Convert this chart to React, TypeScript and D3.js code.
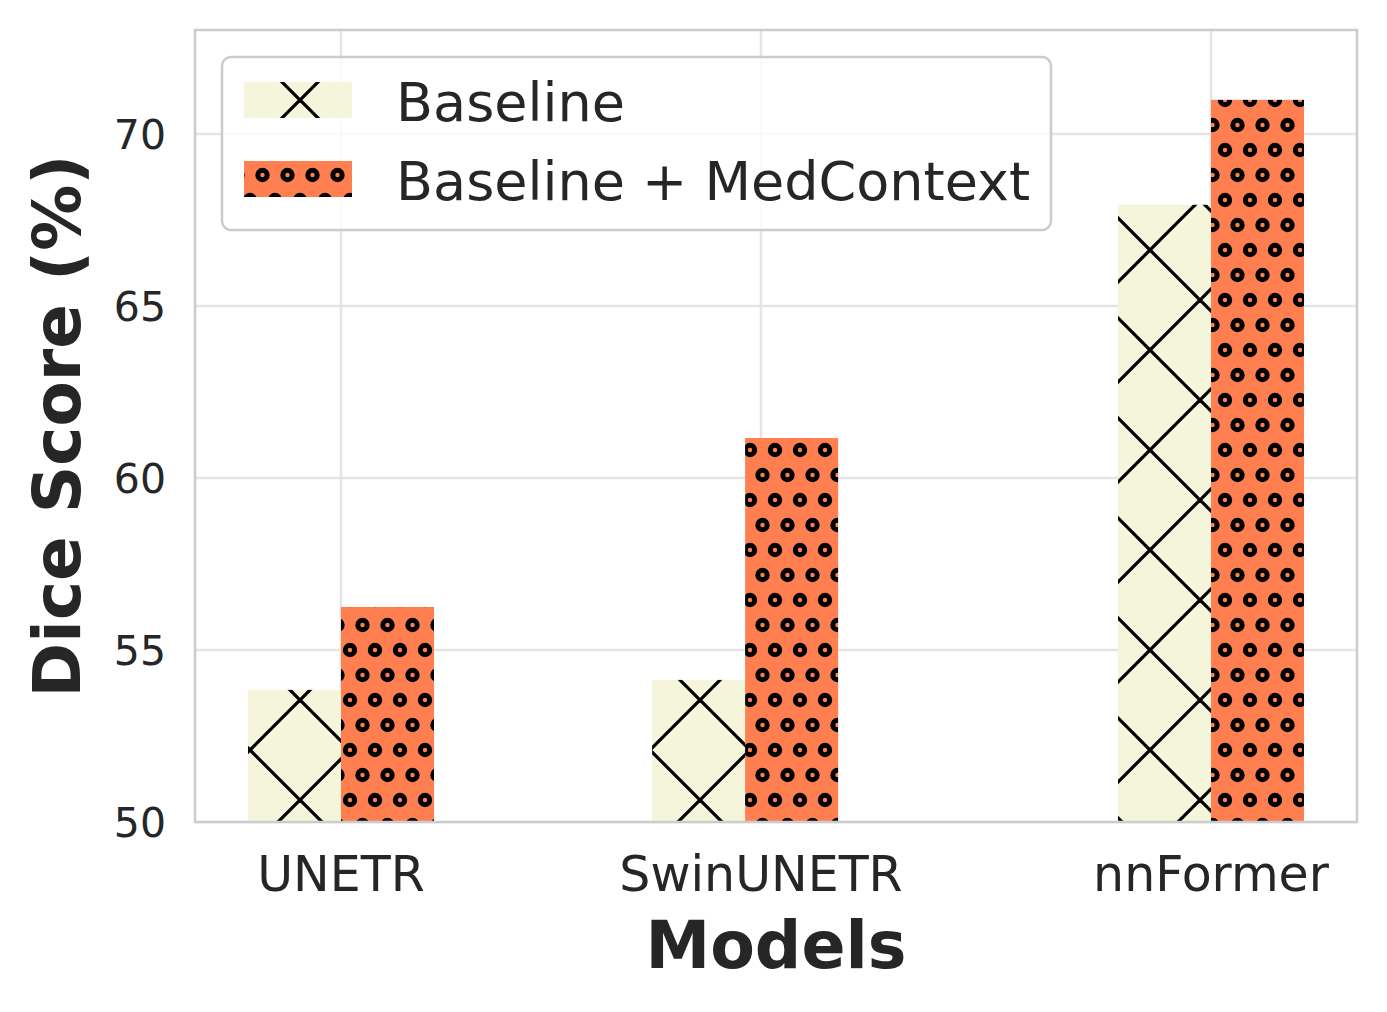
import { scaleLinear } from 'd3'
import { useEffect } from 'react'

// values
const models = ['UNETR', 'SwinUNETR', 'nnFormer']
const modelTickPos = [0, 0.9655, 2]
const modelBarPos = [0, 0.929, 2]
const baseline = [53.84, 54.13, 67.94]
const medContext = [56.25, 61.16, 70.99]
const seriesNames = ['Baseline', 'Baseline + MedContext']
const yTicks = [50, 55, 60, 65, 70]

const W = 1387
const H = 1012
const margin = { left: 195, right: 30, top: 30, bottom: 190 }
const barWidth = 0.2138
const textColor = '#262626'
const font = '"DejaVu Sans", sans-serif'

export default function App() {
    useEffect(() => {
        document.body.style.margin = '0'
    }, [])

    const x = scaleLinear()
        .domain([-0.3356, 2.3356])
        .range([margin.left, W - margin.right])

    const y = scaleLinear()
        .domain([50, 73.02])
        .range([H - margin.bottom, margin.top])

    const bw = x(barWidth) - x(0)
    const [x0, x1] = x.range()
    const [yb, yt] = y.range()

    return (
        <svg width={W} height={H} style={{ display: 'block', background: '#fff' }}>
            <defs>
                <pattern id='hatchX' patternUnits='userSpaceOnUse' width={100} height={100}>
                    <rect width={100} height={100} fill='#f5f5dc' />
                    <g stroke='#000' strokeWidth={3.3}>
                        <line x1={0} y1={0} x2={100} y2={100} />
                        <line x1={0} y1={100} x2={100} y2={0} />
                        <line x1={90} y1={-10} x2={110} y2={10} />
                        <line x1={-10} y1={90} x2={10} y2={110} />
                        <line x1={-10} y1={10} x2={10} y2={-10} />
                        <line x1={90} y1={110} x2={110} y2={90} />
                    </g>
                </pattern>
                <pattern id='hatchO' patternUnits='userSpaceOnUse' width={25} height={50}>
                    <rect width={25} height={50} fill='#ff7f50' />
                    <g stroke='#000' strokeWidth={5} fill='none'>
                        {[[0, 0], [25, 0], [0, 50], [25, 50], [12.5, 25]].map(([cx, cy], i) => (
                            <circle key={i} cx={cx} cy={cy} r={4.7} />
                        ))}
                    </g>
                </pattern>
            </defs>

            {/* grid */}
            <g stroke='#e5e5e5' strokeWidth={2.5}>
                {yTicks.map(t => (
                    <line key={t} x1={x0} x2={x1} y1={y(t)} y2={y(t)} />
                ))}
                {modelTickPos.map((p, i) => (
                    <line key={i} x1={x(p)} x2={x(p)} y1={yt} y2={yb} />
                ))}
            </g>

            {/* bars */}
            {models.map((m, i) => (
                <g key={m}>
                    <rect
                        x={x(modelBarPos[i]) - bw}
                        y={y(baseline[i])}
                        width={bw}
                        height={yb - y(baseline[i])}
                        fill='url(#hatchX)'
                    />
                    <rect
                        x={x(modelBarPos[i])}
                        y={y(medContext[i])}
                        width={bw}
                        height={yb - y(medContext[i])}
                        fill='url(#hatchO)'
                    />
                </g>
            ))}

            {/* frame */}
            <rect x={x0} y={yt} width={x1 - x0} height={yb - yt} fill='none' stroke='#cccccc' strokeWidth={2.5} />

            {/* y ticks */}
            <g fontFamily={font} fontSize={41} fill={textColor} textAnchor='end'>
                {yTicks.map(t => (
                    <text key={t} x={x0 - 29} y={y(t)} dy='0.36em'>{t}</text>
                ))}
            </g>

            {/* x ticks */}
            <g fontFamily={font} fontSize={49} fill={textColor} textAnchor='middle'>
                {models.map((m, i) => (
                    <text key={m} x={x(modelTickPos[i])} y={yb + 69}>{m}</text>
                ))}
            </g>

            <text
                x={(x0 + x1) / 2}
                y={968}
                textAnchor='middle'
                fontFamily={font}
                fontSize={65}
                fontWeight='bold'
                fill={textColor}
            >
                Models
            </text>
            <text
                transform={`translate(80,${(yt + yb) / 2}) rotate(-90)`}
                textAnchor='middle'
                fontFamily={font}
                fontSize={66}
                fontWeight='bold'
                fill={textColor}
            >
                Dice Score (%)
            </text>

            {/* legend */}
            <g>
                <rect x={222} y={57} width={829} height={173} rx={9} fill='#fff' fillOpacity={0.8} stroke='#cccccc' strokeWidth={2.5} />
                {seriesNames.map((s, i) => (
                    <g key={s}>
                        <rect x={244} y={82 + i * 79} width={108} height={36} fill={i === 0 ? 'url(#hatchX)' : 'url(#hatchO)'} />
                        <text x={396} y={121 + i * 79} fontFamily={font} fontSize={54} fill={textColor}>{s}</text>
                    </g>
                ))}
            </g>
        </svg>
    )
}
